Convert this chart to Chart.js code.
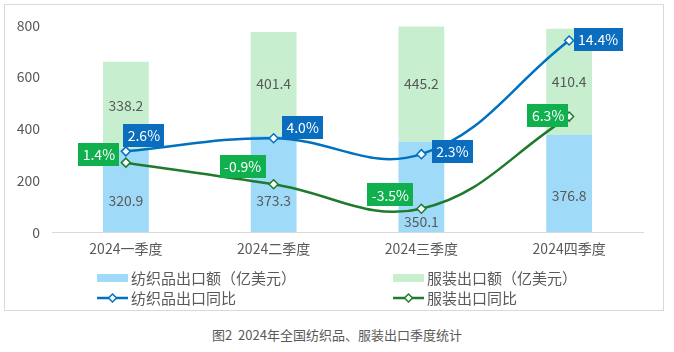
<!DOCTYPE html>
<html><head><meta charset="utf-8">
<script src="https://cdn.jsdelivr.net/npm/chart.js@4"></script>
<style>
html,body{margin:0;padding:0;background:#fff;}
body{width:674px;height:352px;position:relative;overflow:hidden;font-family:"Noto Sans CJK SC","Noto Sans",sans-serif;}
#box{position:absolute;left:4px;top:4px;width:660px;height:307px;border:1px solid #d9d9d9;box-sizing:border-box;}
#wrap{position:absolute;left:5px;top:5px;width:658px;height:305px;}
#cap{position:absolute;left:0;width:674px;top:325px;text-align:center;font-size:13px;color:#595959;}
</style></head>
<body>
<div id="box"></div>
<div id="wrap"><canvas id="c" width="658" height="305"></canvas></div>
<div id="cap">图2&nbsp;&nbsp;2024年全国纺织品、服装出口季度统计</div>
<script>
const categories = ["2024一季度","2024二季度","2024三季度","2024四季度"];
const textileExport = [320.9, 373.3, 350.1, 376.8];
const apparelExport = [338.2, 401.4, 445.2, 410.4];
const textileYoY = [2.6, 4.0, 2.3, 14.4];
const apparelYoY = [1.4, -0.9, -3.5, 6.3];
const yTicks = [0, 200, 400, 600, 800];
const seriesNames = ["纺织品出口额（亿美元）","服装出口额（亿美元）","纺织品出口同比","服装出口同比"];

const C = {
  textileBar: "#9fdbf8",
  apparelBar: "#c7efcf",
  textileLine: "#0070c0",
  apparelLine: "#1e7a2c",
  textileBox: "#0b6dbd",
  apparelBox: "#10b04f"
};
const FONT = '"Noto Sans CJK SC","Noto Sans",sans-serif';

// label placement (style), offsets in px
const barLabelFrac = {0: [0.38, 0.33, 0.12, 0.37], 1: [0.5, 0.5, 0.5, 0.5]};
const pctOffsets = {
  2: [[18,-16],[29,-11],[31,-3],[29,-1]],
  3: [[-27,-8],[-31,-18],[-31,-14],[-21,-1]]
};

const labelPlugin = {
  id: 'labels',
  afterDatasetsDraw(chart) {
    const ctx = chart.ctx;
    ctx.save();
    // bar labels
    [0,1].forEach(di => {
      const meta = chart.getDatasetMeta(di);
      meta.data.forEach((bar, i) => {
        const top = Math.min(bar.y, bar.base), bot = Math.max(bar.y, bar.base);
        const y = bot - (bot - top) * barLabelFrac[di][i];
        ctx.font = '14px ' + FONT;
        ctx.fillStyle = '#595959';
        ctx.textAlign = 'center';
        ctx.textBaseline = 'middle';
        ctx.fillText(chart.data.datasets[di].data[i].toFixed(1), bar.x, y);
      });
    });
    // pct boxes
    [2,3].forEach(di => {
      const meta = chart.getDatasetMeta(di);
      const color = di === 2 ? C.textileBox : C.apparelBox;
      meta.data.forEach((pt, i) => {
        const txt = chart.data.datasets[di].data[i].toFixed(1) + '%';
        ctx.font = '14px ' + FONT;
        const w = ctx.measureText(txt).width + 9, h = 23;
        const cx = pt.x + pctOffsets[di][i][0], cy = pt.y + pctOffsets[di][i][1];
        ctx.fillStyle = color;
        ctx.fillRect(Math.round(cx - w/2), Math.round(cy - h/2), Math.round(w), h);
        ctx.fillStyle = '#fff';
        ctx.textAlign = 'center';
        ctx.textBaseline = 'middle';
        ctx.fillText(txt, cx, cy + 0.5);
      });
    });
    // legend
    const rows = [[0,1],[2,3]];
    const colX = [92, 388];
    const rowY = [273, 293];
    rows.forEach((r, ri) => r.forEach((di, ci) => {
      const x = colX[ci], y = rowY[ri];
      if (di < 2) {
        ctx.fillStyle = di === 0 ? C.textileBar : C.apparelBar;
        ctx.fillRect(x, y - 4, 31, 8);
      } else {
        const col = di === 2 ? C.textileLine : C.apparelLine;
        ctx.strokeStyle = col; ctx.lineWidth = 2.5;
        ctx.beginPath(); ctx.moveTo(x, y); ctx.lineTo(x + 31, y); ctx.stroke();
        ctx.fillStyle = '#fff'; ctx.lineWidth = 1.5;
        ctx.beginPath();
        ctx.moveTo(x + 15.5, y - 4); ctx.lineTo(x + 19.5, y); ctx.lineTo(x + 15.5, y + 4); ctx.lineTo(x + 11.5, y); ctx.closePath();
        ctx.fill(); ctx.stroke();
      }
      ctx.font = '15px ' + FONT;
      ctx.fillStyle = '#595959';
      ctx.textAlign = 'left';
      ctx.textBaseline = 'middle';
      ctx.fillText(seriesNames[di], x + 34, y);
    }));
    ctx.restore();
  }
};

new Chart(document.getElementById('c'), {
  data: {
    labels: categories,
    datasets: [
      {type:'bar', label: seriesNames[0], data: textileExport, backgroundColor: C.textileBar, yAxisID:'y', stack:'s', order: 2, barPercentage: 0.31, categoryPercentage: 1},
      {type:'bar', label: seriesNames[1], data: apparelExport, backgroundColor: C.apparelBar, yAxisID:'y', stack:'s', order: 2, barPercentage: 0.31, categoryPercentage: 1},
      {type:'line', label: seriesNames[2], data: textileYoY, borderColor: C.textileLine, borderWidth: 2.5, tension: 0.4, yAxisID:'y2', order: 1,
        pointStyle:'rectRot', pointRadius: 4.5, pointBackgroundColor:'#fff', pointBorderColor: C.textileLine, pointBorderWidth: 1.5},
      {type:'line', label: seriesNames[3], data: apparelYoY, borderColor: C.apparelLine, borderWidth: 2.5, tension: 0.4, yAxisID:'y2', order: 1,
        pointStyle:'rectRot', pointRadius: 4.5, pointBackgroundColor:'#fff', pointBorderColor: C.apparelLine, pointBorderWidth: 1.5}
    ]
  },
  options: {
    responsive: false,
    animation: false,
    layout: {padding: {top: 11, right: 20, bottom: 45, left: 0}},
    plugins: {legend: {display: false}, tooltip: {enabled: false}},
    scales: {
      x: {
        stacked: true,
        grid: {display: false, drawTicks: false},
        border: {display: true, color: '#d9d9d9', width: 1},
        ticks: {color: '#595959', font: {size: 14, family: FONT}, padding: 8}
      },
      y: {
        stacked: true,
        min: 0, max: 800,
        afterBuildTicks: s => { s.ticks = yTicks.map(v => ({value: v})); },
        afterFit: s => { s.width = 47; },
        grid: {display: false, drawTicks: false},
        border: {display: false},
        ticks: {color: '#595959', font: {size: 14, family: FONT}, padding: 12}
      },
      y2: {
        display: false,
        min: -6, max: 16,
        stacked: false
      }
    }
  },
  plugins: [labelPlugin]
});
</script>
</body></html>
